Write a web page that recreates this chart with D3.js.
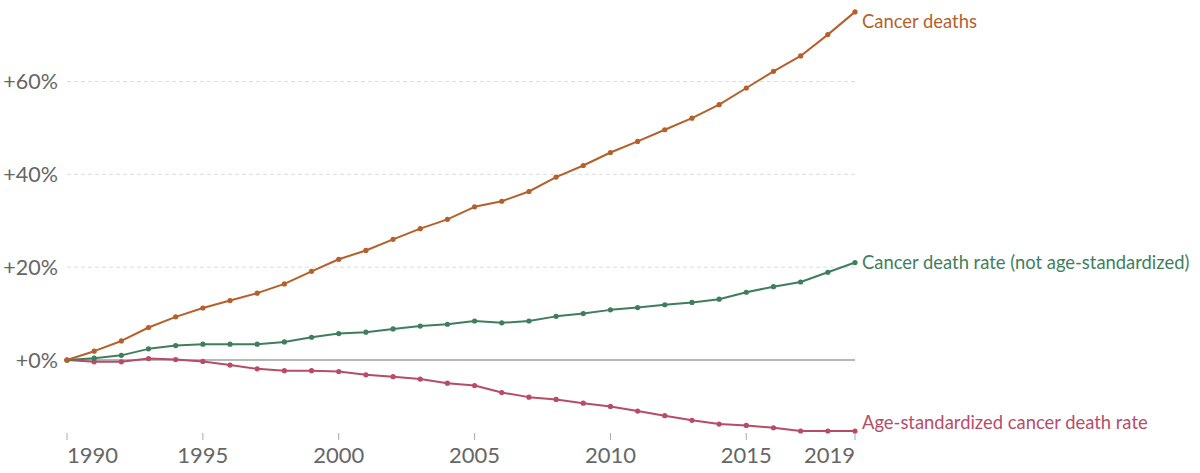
<!DOCTYPE html>
<html>
<head>
<meta charset="utf-8">
<script src="https://cdn.jsdelivr.net/npm/d3@7"></script>
<style>
html,body{margin:0;padding:0;background:#fff;}
svg{display:block;font-family:Lato,"Open Sans",sans-serif;}
</style>
</head>
<body>
<svg id="chart" width="1200" height="473"></svg>
<script>
const years = d3.range(1990, 2020);
const cancerDeaths = [0,1.9,4.1,7.0,9.3,11.2,12.8,14.4,16.4,19.1,21.7,23.6,26.0,28.3,30.3,33.0,34.2,36.3,39.4,41.9,44.7,47.1,49.6,52.1,55.0,58.6,62.2,65.5,70.1,75.0];
const crudeRate = [0,0.4,1.0,2.4,3.1,3.4,3.4,3.4,3.9,4.9,5.7,6.0,6.7,7.3,7.7,8.4,8.0,8.4,9.4,10.0,10.8,11.3,11.9,12.4,13.1,14.6,15.8,16.8,18.9,21.0];
const ageStdRate = [0,-0.4,-0.4,0.3,0.1,-0.3,-1.1,-1.9,-2.3,-2.3,-2.5,-3.2,-3.6,-4.1,-5.0,-5.5,-7.0,-8.0,-8.5,-9.3,-10.0,-11.0,-12.0,-13.0,-13.8,-14.1,-14.6,-15.3,-15.3,-15.3];
const seriesNames = ["Cancer deaths","Cancer death rate (not age-standardized)","Age-standardized cancer death rate"];
const seriesColors = ["#b5602b","#3e7e5d","#b74c66"];
const yTicks = [0,20,40,60];
const xTicks = [1990,1995,2000,2005,2010,2015,2019];

const series = [cancerDeaths, crudeRate, ageStdRate].map((vals,i)=>({
  name: seriesNames[i], color: seriesColors[i],
  values: vals.map((v,j)=>({year:years[j], value:v}))
}));
const labelOffsets = [10, 0, -8];

const svg = d3.select("#chart");
const x = d3.scaleLinear().domain([1990,2019]).range([67,855]);
const y = d3.scaleLinear().domain([0,60]).range([360,81.5]);

// grid lines
const grid = svg.append("g");
yTicks.forEach(t=>{
  grid.append("line")
    .attr("x1", x(1990)).attr("x2", x(2019))
    .attr("y1", y(t)).attr("y2", y(t))
    .attr("stroke", t===0 ? "#a0a0a0" : "#dddddd")
    .attr("stroke-width", t===0 ? 1.3 : 1)
    .attr("stroke-dasharray", t===0 ? null : "4,3");
  grid.append("text")
    .attr("x", 58).attr("y", y(t))
    .attr("dy", "0.35em")
    .attr("text-anchor", "end")
    .attr("fill", "#666")
    .attr("font-size", 21.5)
    .text("+" + t + "%");
});

// x axis
const xa = svg.append("g");
xTicks.forEach((t,i)=>{
  xa.append("line")
    .attr("x1", x(t)).attr("x2", x(t))
    .attr("y1", 433).attr("y2", 440)
    .attr("stroke", "#aaa").attr("stroke-width", 1);
  xa.append("text")
    .attr("x", x(t)).attr("y", 463)
    .attr("text-anchor", i===0 ? "start" : (i===xTicks.length-1 ? "end" : "middle"))
    .attr("fill", "#666")
    .attr("font-size", 22)
    .text(t);
});

const line = d3.line().x(d=>x(d.year)).y(d=>y(d.value));

series.slice().reverse().forEach(s=>{
  const g = svg.append("g");
  g.append("path")
    .datum(s.values)
    .attr("fill","none")
    .attr("stroke", s.color)
    .attr("stroke-width", 2)
    .attr("stroke-linejoin","round")
    .attr("d", line);
  g.selectAll("circle").data(s.values).join("circle")
    .attr("cx", d=>x(d.year)).attr("cy", d=>y(d.value))
    .attr("r", 2.6).attr("fill", s.color);
});

// labels
series.forEach((s,i)=>{
  const last = s.values[s.values.length-1];
  svg.append("text")
    .attr("x", x(last.year) + 7)
    .attr("y", y(last.value) + labelOffsets[i])
    .attr("dy","0.35em")
    .attr("fill", s.color)
    .attr("font-size", 18.4)
    .text(s.name);
});
</script>
</body>
</html>
